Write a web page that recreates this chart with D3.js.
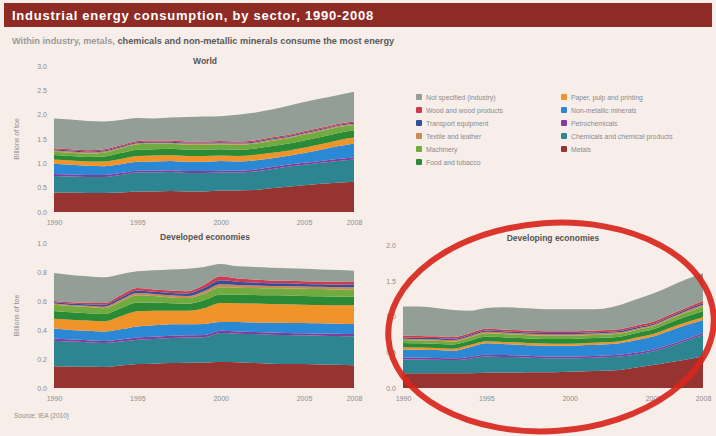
<!DOCTYPE html>
<html><head><meta charset="utf-8">
<script src="https://cdn.jsdelivr.net/npm/d3@7"></script>
<style>
body{margin:0;background:#f7eeea;}
svg{display:block;font-family:"Liberation Sans",Arial,sans-serif;}
</style>
</head><body>
<svg id="c" width="716" height="436"></svg>
<script>
// ---------- data ----------
const years = [1990,1991,1992,1993,1994,1995,1996,1997,1998,1999,2000,2001,2002,2003,2004,2005,2006,2007,2008];
const xTicks = [1990,1995,2000,2005,2008];
const worldTicks = [0,0.5,1.0,1.5,2.0,2.5,3.0];
const developedTicks = [0,0.2,0.4,0.6,0.8,1.0];
const developingTicks = [0,0.5,1.0,1.5,2.0];

// stack order, bottom to top
const sectors = ["Metals","Chemicals and chemical products","Petrochemicals","Non-metallic minerals",
  "Paper, pulp and printing","Food and tobacco","Machinery","Textile and leather",
  "Transport equipment","Wood and wood products","Not specified (industry)"];
const sectorColors = ["#973330","#2c8590","#873a9c","#2a88d4","#f0942a","#2b8a36","#6fab3e",
  "#c98a55","#33509c","#cf3a4e","#939e97"];

// World (billions of toe)
const worldMetals      = [0.40,0.40,0.39,0.39,0.40,0.42,0.42,0.43,0.42,0.42,0.44,0.44,0.45,0.49,0.52,0.55,0.58,0.60,0.62];
const worldChemicals   = [0.34,0.33,0.33,0.33,0.36,0.39,0.39,0.39,0.38,0.38,0.37,0.37,0.38,0.39,0.41,0.42,0.43,0.45,0.46];
const worldPetrochem   = [0.04,0.04,0.04,0.04,0.04,0.04,0.04,0.04,0.04,0.04,0.04,0.04,0.04,0.04,0.04,0.04,0.04,0.04,0.04];
const worldNonMetallic = [0.21,0.20,0.19,0.18,0.18,0.18,0.19,0.19,0.19,0.19,0.20,0.19,0.19,0.18,0.18,0.20,0.23,0.26,0.29];
const worldPaper       = [0.09,0.09,0.09,0.10,0.11,0.12,0.12,0.12,0.12,0.12,0.11,0.11,0.11,0.11,0.11,0.11,0.11,0.12,0.12];
const worldFood        = [0.09,0.09,0.09,0.10,0.12,0.13,0.13,0.13,0.13,0.13,0.13,0.13,0.13,0.14,0.14,0.15,0.15,0.15,0.15];
const worldMachinery   = [0.07,0.07,0.07,0.08,0.09,0.11,0.11,0.10,0.10,0.10,0.10,0.10,0.10,0.11,0.11,0.12,0.12,0.12,0.11];
const worldTextile     = [0.025,0.025,0.025,0.025,0.025,0.025,0.025,0.025,0.025,0.025,0.025,0.025,0.025,0.025,0.025,0.025,0.025,0.025,0.025];
const worldTransport   = [0.02,0.02,0.02,0.02,0.02,0.02,0.02,0.02,0.02,0.02,0.02,0.02,0.02,0.02,0.02,0.02,0.02,0.02,0.02];
const worldWood        = [0.025,0.025,0.025,0.025,0.025,0.025,0.025,0.025,0.025,0.025,0.025,0.025,0.025,0.025,0.025,0.025,0.025,0.025,0.025];
const worldNotSpec     = [0.61,0.61,0.60,0.57,0.52,0.47,0.45,0.47,0.50,0.51,0.51,0.55,0.57,0.57,0.60,0.60,0.60,0.59,0.61];

// Developed economies
const devdMetals      = [0.150,0.148,0.146,0.145,0.155,0.165,0.168,0.172,0.175,0.175,0.180,0.178,0.172,0.168,0.165,0.165,0.162,0.160,0.157];
const devdChemicals   = [0.176,0.172,0.169,0.165,0.165,0.168,0.170,0.173,0.173,0.175,0.200,0.197,0.200,0.200,0.200,0.198,0.199,0.199,0.200];
const devdPetrochem   = [0.015,0.015,0.015,0.015,0.015,0.015,0.015,0.015,0.015,0.015,0.015,0.015,0.015,0.015,0.015,0.015,0.015,0.015,0.015];
const devdNonMetallic = [0.069,0.065,0.065,0.065,0.070,0.077,0.079,0.080,0.077,0.077,0.060,0.065,0.065,0.067,0.069,0.070,0.070,0.069,0.069];
const devdPaper       = [0.068,0.070,0.070,0.070,0.090,0.104,0.100,0.093,0.093,0.108,0.131,0.130,0.130,0.130,0.129,0.127,0.127,0.128,0.129];
const devdFood        = [0.053,0.052,0.051,0.050,0.055,0.061,0.057,0.051,0.048,0.055,0.059,0.059,0.059,0.059,0.060,0.060,0.060,0.060,0.059];
const devdMachinery   = [0.044,0.043,0.042,0.040,0.045,0.050,0.046,0.041,0.039,0.045,0.049,0.048,0.049,0.049,0.049,0.050,0.049,0.049,0.049];
const devdTextile     = [0.008,0.008,0.009,0.011,0.013,0.015,0.013,0.014,0.014,0.018,0.022,0.019,0.017,0.016,0.016,0.015,0.016,0.016,0.016];
const devdTransport   = [0.009,0.010,0.011,0.013,0.016,0.018,0.016,0.017,0.017,0.021,0.027,0.022,0.021,0.019,0.019,0.018,0.018,0.018,0.019];
const devdWood        = [0.008,0.009,0.010,0.012,0.016,0.017,0.016,0.016,0.016,0.021,0.027,0.022,0.020,0.019,0.018,0.018,0.018,0.018,0.018];
const devdNotSpec     = [0.193,0.188,0.182,0.177,0.145,0.115,0.132,0.146,0.156,0.125,0.085,0.084,0.087,0.088,0.086,0.087,0.084,0.081,0.078];

// Developing economies
const devgMetals      = [0.205,0.205,0.205,0.205,0.208,0.214,0.216,0.218,0.220,0.222,0.228,0.235,0.242,0.252,0.285,0.320,0.360,0.400,0.440];
const devgChemicals   = [0.195,0.195,0.190,0.185,0.202,0.226,0.219,0.212,0.200,0.193,0.187,0.185,0.188,0.188,0.185,0.190,0.220,0.260,0.300];
const devgPetrochem   = [0.025,0.025,0.025,0.025,0.025,0.025,0.025,0.025,0.025,0.025,0.025,0.025,0.025,0.025,0.025,0.025,0.025,0.025,0.025];
const devgNonMetallic = [0.115,0.110,0.110,0.105,0.135,0.160,0.155,0.150,0.150,0.150,0.150,0.155,0.155,0.160,0.175,0.185,0.195,0.195,0.185];
const devgPaper       = [0.030,0.030,0.030,0.030,0.030,0.030,0.030,0.030,0.030,0.030,0.030,0.030,0.030,0.030,0.035,0.035,0.040,0.040,0.040];
const devgFood        = [0.060,0.060,0.060,0.060,0.062,0.065,0.065,0.065,0.065,0.065,0.065,0.065,0.063,0.062,0.063,0.065,0.072,0.080,0.088];
const devgMachinery   = [0.040,0.040,0.040,0.040,0.042,0.045,0.045,0.045,0.045,0.045,0.045,0.044,0.043,0.042,0.042,0.042,0.048,0.055,0.062];
const devgTextile     = [0.020,0.020,0.020,0.020,0.020,0.020,0.020,0.020,0.020,0.020,0.020,0.020,0.020,0.020,0.020,0.020,0.020,0.022,0.024];
const devgTransport   = [0.018,0.018,0.018,0.018,0.018,0.018,0.018,0.018,0.018,0.018,0.018,0.018,0.018,0.018,0.018,0.018,0.018,0.020,0.022];
const devgWood        = [0.025,0.025,0.025,0.025,0.025,0.025,0.025,0.025,0.025,0.025,0.025,0.025,0.025,0.025,0.025,0.025,0.025,0.027,0.030];
const devgNotSpec     = [0.407,0.412,0.397,0.377,0.313,0.292,0.312,0.312,0.312,0.307,0.307,0.298,0.301,0.338,0.367,0.395,0.397,0.396,0.390];

// ---------- build tables ----------
function table(cols){
  return years.map((yr,i)=>{
    const r={year:yr};
    sectors.forEach((s,k)=>{ r[s]=cols[k][i]; });
    return r;
  });
}
const worldRows = table([worldMetals,worldChemicals,worldPetrochem,worldNonMetallic,worldPaper,worldFood,worldMachinery,worldTextile,worldTransport,worldWood,worldNotSpec]);
const developedRows = table([devdMetals,devdChemicals,devdPetrochem,devdNonMetallic,devdPaper,devdFood,devdMachinery,devdTextile,devdTransport,devdWood,devdNotSpec]);
const developingRows = table([devgMetals,devgChemicals,devgPetrochem,devgNonMetallic,devgPaper,devgFood,devgMachinery,devgTextile,devgTransport,devgWood,devgNotSpec]);

// ---------- drawing ----------
const svg = d3.select("#c");
svg.append("rect").attr("width",716).attr("height",436).attr("fill","#f7eeea");

// title bar
svg.append("rect").attr("x",4).attr("y",3).attr("width",708).attr("height",24).attr("fill","#8f2b25");
svg.append("text").attr("x",12).attr("y",19.5).attr("fill","#fff").attr("font-size",13)
  .attr("font-weight","bold").attr("letter-spacing",0.75)
  .text("Industrial energy consumption, by sector, 1990-2008");
const sub = svg.append("text").attr("x",12).attr("y",44).attr("font-size",9.2).attr("font-weight","bold");
sub.append("tspan").attr("fill","#9a9a9a").text("Within industry, metals, ");
sub.append("tspan").attr("fill","#5a5a5a").text("chemicals and non-metallic minerals consume the most energy");

const stack = d3.stack().keys(sectors);

function panel(rows, opt){
  const x = d3.scaleLinear().domain([1990,2008]).range([opt.x0,opt.x1]);
  const y = d3.scaleLinear().domain([0,opt.yMax]).range([opt.yb,opt.yt]);
  const g = svg.append("g");
  const area = d3.area().x(d=>x(d.data.year)).y0(d=>y(d[0])).y1(d=>y(d[1])).curve(d3.curveMonotoneX);
  g.selectAll("path.layer").data(stack(rows)).join("path")
    .attr("class","layer").attr("d",area)
    .attr("fill",(d,i)=>sectorColors[i]);
  // y axis labels
  const yAxis = d3.axisLeft(y).tickValues(opt.yTicks).tickFormat(d3.format(".1f")).tickSize(0).tickPadding(0);
  const ya = g.append("g").attr("transform",`translate(${opt.x0-7},0)`).call(yAxis);
  ya.select(".domain").remove();
  ya.selectAll("text").attr("fill","#8c8c8c").attr("font-size",7).attr("font-family","Liberation Sans,Arial,sans-serif");
  // x axis labels
  const xAxis = d3.axisBottom(x).tickValues(xTicks).tickFormat(d3.format("d")).tickSize(0).tickPadding(0);
  const xa = g.append("g").attr("transform",`translate(0,${opt.yb+8})`).call(xAxis);
  xa.select(".domain").remove();
  xa.selectAll("text").attr("fill","#8c8c8c").attr("font-size",7).attr("font-family","Liberation Sans,Arial,sans-serif");
  // title
  g.append("text").attr("x",opt.tx).attr("y",opt.ty).attr("text-anchor","middle")
    .attr("font-size",8.5).attr("font-weight","bold").attr("fill","#555").text(opt.title);
  if(opt.ylabel){
    g.append("text").attr("transform",`translate(${opt.x0-35},${(opt.yb+opt.yt)/2}) rotate(-90)`)
      .attr("text-anchor","middle").attr("font-size",7).attr("fill","#8c8c8c").text(opt.ylabel);
  }
}

panel(worldRows,{x0:54,x1:354,yb:212,yt:66,yMax:3.0,yTicks:worldTicks,title:"World",tx:205,ty:64,ylabel:"Billions of toe"});
panel(developedRows,{x0:54,x1:354,yb:388,yt:243,yMax:1.0,yTicks:developedTicks,title:"Developed economies",tx:205,ty:240,ylabel:"Billions of toe"});
panel(developingRows,{x0:403,x1:703,yb:388,yt:245,yMax:2.0,yTicks:developingTicks,title:"Developing economies",tx:553,ty:241});

// legend
const legendOrder = sectors.map((s,i)=>({s,c:sectorColors[i]})).reverse();
const lg = svg.append("g");
legendOrder.forEach((d,i)=>{
  const col = i<6?0:1, row = i<6?i:i-6;
  const lx = col===0?416:561, ly = 94+row*13;
  lg.append("rect").attr("x",lx).attr("y",ly).attr("width",6).attr("height",6).attr("rx",1).attr("fill",d.c);
  lg.append("text").attr("x",lx+10).attr("y",ly+5.5).attr("font-size",6.8).attr("fill","#8a8a8a").text(d.s);
});

// source
svg.append("text").attr("x",14).attr("y",418).attr("font-size",6.5).attr("fill","#8c8c8c").text("Source: IEA (2010)");

// hand-drawn red ellipse annotation
svg.append("ellipse").attr("cx",551).attr("cy",327).attr("rx",163).attr("ry",104)
  .attr("transform","rotate(-4,551,327)")
  .attr("fill","none").attr("stroke","#d8261c").attr("stroke-width",6).attr("opacity",0.92);
</script>
</body></html>
